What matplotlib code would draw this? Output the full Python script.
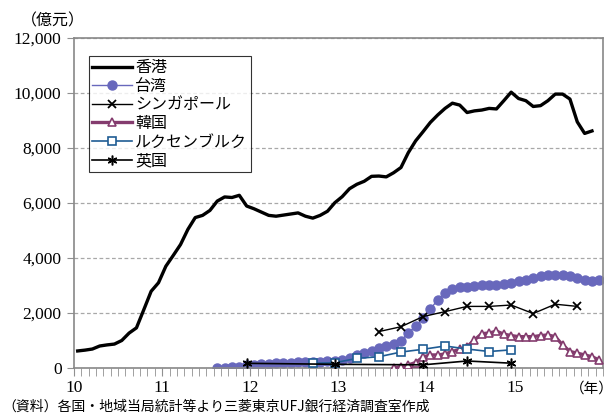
import numpy as np
import matplotlib
matplotlib.use('Agg')
import matplotlib.pyplot as plt
from matplotlib.ticker import FuncFormatter, MultipleLocator

plt.rcParams['font.family'] = ['Noto Sans CJK JP', 'DejaVu Sans']

# month index 0 = 2010/01
hk_start = 0
hk_values = [620, 650, 690, 800, 840, 870, 1000, 1270, 1460, 2120,
             2790, 3100, 3700, 4090, 4490, 5040, 5470, 5550, 5730, 6070,
             6220, 6200, 6280, 5890, 5790, 5670, 5550, 5520, 5560, 5600,
             5640, 5520, 5450, 5550, 5700, 6010, 6230, 6520, 6680, 6790,
             6970, 6980, 6950, 7100, 7290, 7830, 8260, 8590, 8930, 9200,
             9440, 9630, 9560, 9290, 9350, 9380, 9440, 9420, 9720, 10030,
             9800, 9720, 9510, 9540, 9720, 9960, 9960, 9780, 8950, 8530,
             8620]

tw_start = 19
tw_values = [10, 10, 20, 40, 100, 110, 135, 160, 170, 180,
             195, 205, 205, 220, 230, 255, 265, 290, 350, 460,
             560, 630, 715, 800, 875, 1000, 1270, 1530, 1810, 2140,
             2480, 2730, 2880, 2930, 2950, 2970, 3010, 3020, 3030, 3050,
             3090, 3150, 3210, 3270, 3330, 3370, 3400, 3400, 3360, 3270,
             3210, 3160, 3190]

sg_months = [41, 44, 47, 50, 53, 56, 59, 62, 65, 68]
sg_values = [1325, 1500, 1870, 2050, 2240, 2240, 2290, 1980, 2320, 2240]

kr_start = 43
kr_values = [10, 50, 110, 200, 400, 475, 475, 510, 600, 680,
             780, 1020, 1250, 1270, 1340, 1230, 1180, 1140, 1140, 1140,
             1180, 1200, 1140, 840, 600, 540, 475, 410, 290]

lx_months = [32, 35, 38, 41, 44, 47, 50, 53, 56, 59]
lx_values = [170, 190, 350, 410, 580, 680, 800, 690, 600, 660]

uk_months = [23, 35, 47, 53, 59]
uk_values = [170, 135, 115, 255, 175]

year_labels = ['10', '11', '12', '13', '14', '15']


def to_x(months):
    # category centres on a monthly axis starting at year 10
    return 10 + (np.asarray(months) + 0.5) / 12.0


hk_x = to_x(np.arange(len(hk_values)) + hk_start)
tw_x = to_x(np.arange(len(tw_values)) + tw_start)
kr_x = to_x(np.arange(len(kr_values)) + kr_start)

fig = plt.figure(figsize=(6.16, 4.16), dpi=100)
ax = fig.add_axes([74 / 616, 1 - 368 / 416, 529 / 616, 330 / 416])

ax.plot(hk_x, hk_values, color='black', lw=2.4, label='香港', zorder=3)
ax.plot(tw_x, tw_values, color='#6868BC', lw=1, marker='o', ms=6.5,
        label='台湾', zorder=2)
ax.plot(to_x(sg_months), sg_values, color='black', lw=1, marker='x', ms=6,
        mew=1.3, label='シンガポール', zorder=4)
ax.plot(kr_x, kr_values, color='#843C6E', lw=2.4, marker='^', ms=6,
        mfc='white', mew=1.2, label='韓国', zorder=3)
ax.plot(to_x(lx_months), lx_values, color='#1F5C94', lw=1.2, marker='s',
        ms=6, mfc='white', mew=1.2, label='ルクセンブルク', zorder=4)
ax.plot(to_x(uk_months), uk_values, color='black', lw=1.2,
        marker=(6, 2, 0), ms=7, mew=1.1, label='英国', zorder=5)

# axes
ax.set_xlim(10, 16)
ax.set_ylim(0, 12000)
ax.set_xticks(range(10, 16))
ax.set_xticklabels(year_labels, family='Liberation Serif', fontsize=12.5)
ax.xaxis.set_minor_locator(MultipleLocator(1 / 12))
ax.tick_params(axis='x', which='both', direction='out', length=6,
               color='#909090', pad=3)
ax.set_yticks(range(0, 12001, 2000))
ax.yaxis.set_major_formatter(FuncFormatter(lambda v, p: f'{int(v):,}'))
for lab in ax.get_yticklabels():
    lab.set_family('Liberation Serif')
    lab.set_fontsize(12.5)
ax.tick_params(axis='y', direction='out', length=5, color='#909090', pad=4)
ax.grid(axis='y', color='#A8A8A8', ls=(0, (3, 2)), lw=0.9)
for s in ax.spines.values():
    s.set_color('#888888')
    s.set_linewidth(1.2)
ax.set_axisbelow(True)

leg = ax.legend(loc='upper left', bbox_to_anchor=(15 / 529, 1 - 18 / 330),
                borderaxespad=0, fontsize=11.5, fancybox=False, frameon=True,
                handlelength=2.5, handletextpad=0.2, labelspacing=0.1,
                borderpad=0.2)
leg.get_frame().set_edgecolor('black')
leg.get_frame().set_linewidth(0.8)

fig.text(53 / 616, 1 - 21 / 416, '（億元）', ha='center', va='center',
         fontsize=11.5)
fig.text(614 / 616, 1 - 389 / 416, '（年）', ha='right', va='center',
         fontsize=10.5)
fig.text(2 / 616, 1 - 407 / 416, '（資料）各国・地域当局統計等より三菱東京UFJ銀行経済調査室作成',
         ha='left', va='center', fontsize=10)

fig.savefig('out.png', dpi=100)
